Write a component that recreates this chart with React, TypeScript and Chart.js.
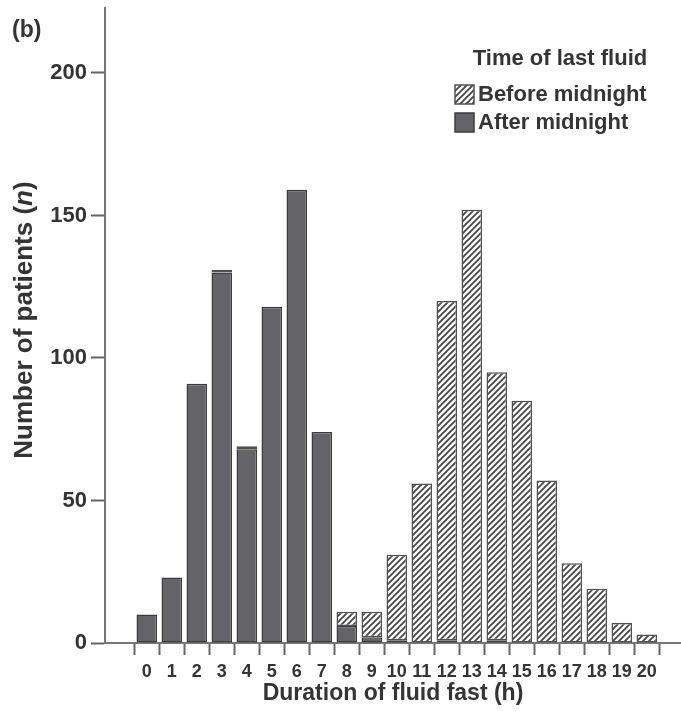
import React, { useEffect, useRef } from 'react';
import { Chart, registerables } from 'chart.js';

Chart.register(...registerables);

const hours = [0, 1, 2, 3, 4, 5, 6, 7, 8, 9, 10, 11, 12, 13, 14, 15, 16, 17, 18, 19, 20];
const afterMidnight = [10, 23, 91, 130, 68, 118, 159, 74, 6, 2, 1, 0, 1, 0, 1, 0, 0, 0, 0, 0, 0];
const beforeMidnight = [0, 0, 0, 1, 1, 0, 0, 0, 5, 9, 30, 56, 119, 152, 94, 85, 57, 28, 19, 7, 3];
const yTicks = [0, 50, 100, 150, 200];
const seriesLabels = ['Before midnight', 'After midnight'];
const legendTitle = 'Time of last fluid';
const xTitle = 'Duration of fluid fast (h)';
const yTitleParts = ['Number of patients (', 'n', ')'];
const panelLabel = '(b)';

const FONT = '"Liberation Sans", Arial, Helvetica, sans-serif';
const NARROW = '"Liberation Sans Narrow", "Arial Narrow", "Liberation Sans", sans-serif';
const TEXT = '#343434';
const DARK_FILL = '#646468';
const DARK_BORDER = '#3c3c3c';
const HATCH_BORDER = '#505050';

function makeHatch(ctx: CanvasRenderingContext2D): CanvasPattern | string {
  const s = 6;
  const c = document.createElement('canvas');
  c.width = s;
  c.height = s;
  const g = c.getContext('2d');
  if (!g) return '#ccc';
  g.fillStyle = '#ffffff';
  g.fillRect(0, 0, s, s);
  g.strokeStyle = '#4a4a4a';
  g.lineWidth = 1.9;
  g.beginPath();
  g.moveTo(-1, s + 1);
  g.lineTo(s + 1, -1);
  g.moveTo(-1, 1);
  g.lineTo(1, -1);
  g.moveTo(s - 1, s + 1);
  g.lineTo(s + 1, s - 1);
  g.stroke();
  return ctx.createPattern(c, 'repeat') || '#ccc';
}

export default function App() {
  const ref = useRef<HTMLCanvasElement | null>(null);

  useEffect(() => {
    document.body.style.margin = '0';
    const canvas = ref.current;
    if (!canvas) return;
    const ctx0 = canvas.getContext('2d') as CanvasRenderingContext2D;
    const hatch = makeHatch(ctx0);

    const textPlugin = {
      id: 'texts',
      afterDraw(chart: any) {
        const ctx = chart.ctx as CanvasRenderingContext2D;
        ctx.save();
        ctx.fillStyle = TEXT;
        // panel label
        ctx.font = `bold 23px ${FONT}`;
        ctx.textAlign = 'left';
        ctx.textBaseline = 'middle';
        ctx.fillText(panelLabel, 12, 31);

        // y title with italic n
        ctx.save();
        ctx.translate(25, 320);
        ctx.rotate(-Math.PI / 2);
        const fNorm = `bold 26px ${FONT}`;
        const fIt = `italic bold 26px ${FONT}`;
        const fonts = [fNorm, fIt, fNorm];
        const widths = yTitleParts.map((p, i) => {
          ctx.font = fonts[i];
          return ctx.measureText(p).width;
        });
        const total = widths.reduce((a, b) => a + b, 0);
        let x = -total / 2;
        ctx.textBaseline = 'middle';
        yTitleParts.forEach((p, i) => {
          ctx.font = fonts[i];
          ctx.fillText(p, x, 0);
          x += widths[i];
        });
        ctx.restore();

        // legend
        ctx.font = `bold 22px ${FONT}`;
        ctx.textAlign = 'center';
        ctx.textBaseline = 'middle';
        ctx.fillText(legendTitle, 560, 59);
        const boxX = 455;
        const rows = [
          { y: 85, fill: hatch, border: HATCH_BORDER, label: seriesLabels[0] },
          { y: 113, fill: DARK_FILL, border: DARK_BORDER, label: seriesLabels[1] },
        ];
        rows.forEach((r) => {
          ctx.fillStyle = r.fill as any;
          ctx.fillRect(boxX, r.y, 19, 19);
          ctx.strokeStyle = r.border;
          ctx.lineWidth = 1.5;
          ctx.strokeRect(boxX, r.y, 19, 19);
          ctx.fillStyle = TEXT;
          ctx.font = `bold 22px ${FONT}`;
          ctx.textAlign = 'left';
          ctx.fillText(r.label, 478, r.y + 10);
        });
        ctx.restore();
      },
    };

    const afterData = hours
      .map((h, i) => ({ x: h, y: afterMidnight[i] }))
      .filter((d) => d.y > 0);
    const beforeData = hours
      .map((h, i) => ({ x: h, y: beforeMidnight[i] }))
      .filter((d) => d.y > 0);

    const chart = new Chart(canvas, {
      type: 'bar',
      data: {
        datasets: [
          {
            label: seriesLabels[1],
            data: afterData as any,
            backgroundColor: DARK_FILL,
            borderColor: DARK_BORDER,
            borderWidth: 1.5,
            borderSkipped: false,
            barPercentage: 0.82,
            categoryPercentage: 1,
          },
          {
            label: seriesLabels[0],
            data: beforeData as any,
            backgroundColor: hatch as any,
            borderColor: HATCH_BORDER,
            borderWidth: 1.5,
            borderSkipped: false,
            barPercentage: 0.82,
            categoryPercentage: 1,
          },
        ],
      },
      options: {
        animation: false,
        responsive: true,
        maintainAspectRatio: false,
        layout: { padding: { top: 8, right: 0, bottom: 0, left: 0 } },
        plugins: {
          legend: { display: false },
          tooltip: { enabled: false },
        },
        scales: {
          x: {
            type: 'linear',
            min: -1.67,
            max: 21.37,
            stacked: true,
            offset: false,
            afterBuildTicks: (s: any) => {
              s.ticks = hours.map((h) => ({ value: h }));
            },
            afterFit: (s: any) => {
              s.height = 68;
              s.paddingLeft = 0;
              s.paddingRight = 0;
            },
            ticks: {
              autoSkip: false,
              maxRotation: 0,
              color: TEXT,
              padding: 6,
              font: { family: NARROW, size: 18, weight: 'bold' },
              callback: (v: any) => String(v),
            },
            grid: {
              drawOnChartArea: false,
              drawTicks: true,
              tickLength: 12,
              tickColor: '#666',
              tickWidth: 2,
            },
            border: { color: '#777', width: 2 },
            title: {
              display: true,
              text: xTitle,
              color: TEXT,
              font: { family: FONT, size: 23, weight: 'bold' },
              padding: { top: 0, bottom: 4 },
            },
          },
          y: {
            min: 0,
            max: 222.8,
            stacked: true,
            afterBuildTicks: (s: any) => {
              s.ticks = yTicks.map((v) => ({ value: v }));
            },
            afterFit: (s: any) => {
              s.width = 105;
              s.paddingTop = 0;
              s.paddingBottom = 0;
            },
            ticks: {
              color: TEXT,
              padding: 4,
              font: { family: FONT, size: 22, weight: 'bold' },
            },
            grid: {
              drawOnChartArea: false,
              drawTicks: true,
              tickLength: 14,
              tickColor: '#666',
              tickWidth: 2,
            },
            border: { color: '#777', width: 2 },
          },
        },
      } as any,
      plugins: [textPlugin],
    });

    return () => {
      chart.destroy();
    };
  }, []);

  return (
    <div style={{ position: 'relative', width: 681, height: 711 }}>
      <canvas ref={ref} />
    </div>
  );
}
